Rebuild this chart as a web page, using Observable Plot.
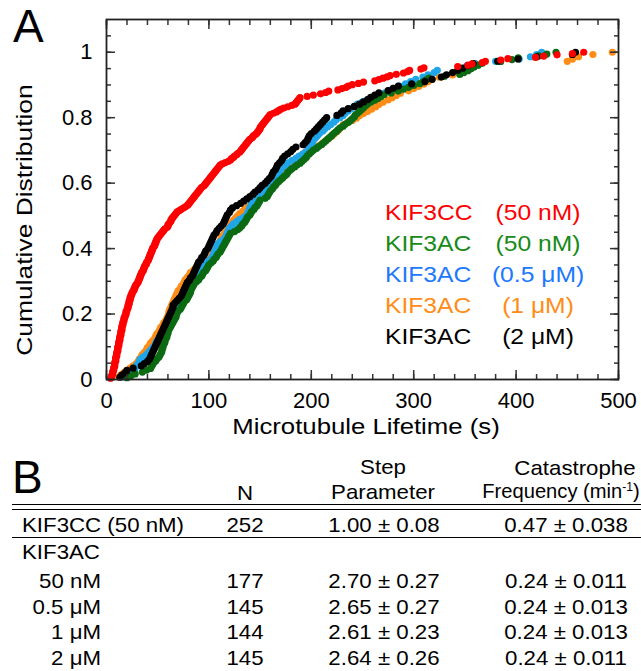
<!DOCTYPE html>
<html><head><meta charset="utf-8">
<script src="https://cdn.jsdelivr.net/npm/d3@7"></script>
<script src="https://cdn.jsdelivr.net/npm/@observablehq/plot@0.6"></script>
<style>
body{margin:0;background:#fff}
#wrap{position:relative;width:641px;height:671px;font-family:"Liberation Sans",Arial,Helvetica,sans-serif;color:#000;overflow:hidden;background:#fff}
#chart{position:absolute;left:0;top:0}
.t{position:absolute;white-space:nowrap;line-height:1}
.hl{position:absolute;height:0;border-top:1.5px solid #000}
</style></head><body><div id="wrap"><div id="chart"></div></div>
<script>
// ---------- data: panel A ----------
const seriesNames = ["KIF3CC", "KIF3AC", "KIF3AC", "KIF3AC", "KIF3AC"];
const seriesConc = ["(50 nM)", "(50 nM)", "(0.5 μM)", "(1 μM)", "(2 μM)"];
const dotColors = ["#ff0000", "#0b6a12", "#1fa5e8", "#ff8c16", "#000000"];
const textColors = ["#ff0000", "#178a17", "#1c78ff", "#ff8c16", "#000000"];

// microtubule lifetimes (s), sorted
const lifeKIF3CC_50nM = [4,5,5,6,6,6,7,7,7,8,8,8,8,9,9,
9,9,10,10,10,10,11,11,11,11,12,12,12,12,13,13,13,13,14,14,
14,14,15,15,15,15,16,16,16,17,
17,17,18,18,19,19,19,20,20,21,21,21,22,22,22,23,23,23,
24,24,25,25,26,27,27,28,28,29,30,
31,31,32,32,33,33,34,34,35,36,
36,37,37,38,39,39,40,
41,41,42,42,43,43,44,44,45,45,46,
47,47,48,48,49,49,50,51,
52,53,54,55,56,57,59,
60,60,61,62,63,63,64,
65,66,67,68,69,
71,73,75,77,79,
80,81,82,83,84,85,86,87,88,89,
90,91,92,93,95,96,97,98,
99,100,101,102,103,104,105,106,107,108,109,110,111,
113,116,119,121,
122,124,125,127,128,130,131,
132,133,134,135,136,137,138,139,
140,142,143,144,146,147,
148,149,150,150,151,152,153,
154,155,156,157,158,159,160,
163,166,168,170,
173,177,181,
184,185,186,187,188,189,
196,202,209,214,217,226,230,234,236,240,246,251,
262,266,270,274,277,283,290,294,296,307,310,
343,353,357,367,370,385,392,419,427,440,455,466];

const lifeKIF3AC_50nM = [20,24,28,35,39,43,44,45,46,48,
49,51,52,53,54,54,55,55,56,57,
57,58,59,59,60,60,61,62,63,64,
65,66,67,68,68,69,70,72,73,74,
75,76,78,79,80,81,82,82,83,84,
85,86,88,90,91,93,94,95,97,98,
99,100,102,104,105,107,108,109,111,112,
113,114,115,116,117,118,119,120,121,125,
128,130,132,133,135,136,137,138,140,141,
142,144,145,147,148,149,150,155,157,158,
159,160,162,163,165,166,168,170,172,174,
176,177,179,181,184,186,189,191,193,195,
196,198,200,202,205,207,210,212,214,216,
218,220,222,224,226,228,231,233,236,238,
240,242,243,245,247,249,251,253,255,258,
262,265,268,271,278,285,290,295,300,306,
309,312,315,330,345,349,353,356,359,363,
367,385,396,402,422,430,439];

const lifeKIF3AC_05uM = [15,17,22,26,28,29,31,32,33,36,
39,41,43,45,47,48,49,51,52,54,
55,56,58,59,61,62,63,65,66,68,
69,70,71,72,73,74,75,76,77,79,
80,81,83,88,90,91,92,93,93,94,
95,97,101,103,104,105,106,107,107,108,
111,114,116,117,118,119,120,122,124,127,
130,134,137,138,139,140,141,142,143,146,
150,152,154,156,158,159,160,162,164,165,
167,169,170,172,175,177,181,185,188,192,
195,197,198,200,201,202,204,206,208,211,
213,216,219,222,224,228,231,233,236,239,
242,245,250,255,262,268,272,276,280,286,
292,297,302,309,314,320,323,345,352,360,
380,403,414,420,425];

const lifeKIF3AC_1uM = [12,14,17,20,23,26,29,31,32,34,
35,37,39,40,42,43,45,47,48,49,
51,52,53,55,56,58,59,60,61,61,
62,63,64,65,66,67,68,69,70,72,
73,75,76,77,79,81,82,85,87,89,
92,95,99,102,103,104,106,107,108,110,
111,112,113,115,116,118,119,121,122,124,
126,128,130,133,135,138,141,144,147,149,
151,152,154,156,157,159,161,163,164,166,
167,170,174,177,180,183,186,188,191,194,
197,204,208,211,214,217,220,222,225,227,
229,231,235,240,244,247,251,255,259,263,
266,270,275,279,283,287,295,300,305,310,
314,318,325,338,344,349,353,357,360,450,
455,461,475,494];

const lifeKIF3AC_2uM = [13,15,18,20,26,34,37,40,42,43,
44,45,46,47,48,49,50,51,52,53,
54,55,56,57,58,59,60,61,62,63,
64,65,65,67,69,71,73,74,75,76,
77,78,79,81,82,84,85,86,87,88,
89,90,92,93,95,96,97,99,100,101,
102,103,104,105,107,108,110,112,114,115,
116,117,118,120,121,123,127,131,134,137,
140,143,145,148,150,152,155,157,159,161,
162,163,165,166,167,169,171,172,174,177,
180,182,185,192,194,196,197,198,200,203,
205,207,209,211,213,215,225,229,231,236,
242,247,251,255,258,262,266,275,280,285,
298,311,318,327,332,338,343,348,353,358,
382,402,420,455,458];

const lifetimes = [lifeKIF3CC_50nM, lifeKIF3AC_50nM, lifeKIF3AC_05uM, lifeKIF3AC_1uM, lifeKIF3AC_2uM];
const drawOrder = [3, 2, 1, 4, 0];

// axis ticks
const xMajorTicks = [0, 100, 200, 300, 400, 500];
const yMajorTicks = [0, 0.2, 0.4, 0.6, 0.8, 1];
const yTickLabels = ["0", "0.2", "0.4", "0.6", "0.8", "1"];
const xLabel = "Microtubule Lifetime (s)";
const yLabel = "Cumulative Distribution";

// ---------- data: panel B ----------
const tableHeadN = "N";
const tableHeadStep = ["Step", "Parameter"];
const tableHeadCat = ["Catastrophe", "Frequency (min<sup style=\"font-size:0.6em;vertical-align:0.55em;line-height:0\">-1</sup>)"];
const tableGroup = "KIF3AC";
const tableRowLabels = ["KIF3CC (50 nM)", "50 nM", "0.5 μM", "1 μM", "2 μM"];
const tableN = [252, 177, 145, 144, 145];
const tableStep = ["1.00 ± 0.08", "2.70 ± 0.27", "2.65 ± 0.27", "2.61 ± 0.23", "2.64 ± 0.26"];
const tableCat = ["0.47 ± 0.038", "0.24 ± 0.011", "0.24 ± 0.013", "0.24 ± 0.013", "0.24 ± 0.011"];

// ---------- chart ----------
function cdf(arr) { const n = arr.length; return arr.map((t, i) => ({t, F: (i + 1) / n})); }
const xMinor = d3.range(0, 501, 20);
const yMinor = d3.range(0, 22).map(k => k * 0.05);
const tickStyle = {stroke: "#333", strokeWidth: 1.5, label: null, tickFormat: () => ""};

const plot = Plot.plot({
  width: 641, height: 445,
  marginLeft: 106, marginRight: 23, marginTop: 19, marginBottom: 66,
  x: {domain: [0, 500]},
  y: {domain: [0, 1.1]},
  style: {fontFamily: '"Liberation Sans", Arial, sans-serif', fontSize: "22px", color: "#000", background: "#fff"},
  marks: [
    ...drawOrder.map(s => Plot.dot(cdf(lifetimes[s]), {x: "t", y: "F", r: 3.6, fill: dotColors[s], stroke: "none"})),
    Plot.axisX(xMinor, {anchor: "bottom", tickSize: -5, ...tickStyle}),
    Plot.axisX(xMinor, {anchor: "top", tickSize: -5, ...tickStyle}),
    Plot.axisX(xMajorTicks, {anchor: "bottom", tickSize: -9, ...tickStyle}),
    Plot.axisX(xMajorTicks, {anchor: "top", tickSize: -9, ...tickStyle}),
    Plot.axisY(yMinor, {anchor: "left", tickSize: -5, ...tickStyle}),
    Plot.axisY(yMinor, {anchor: "right", tickSize: -5, ...tickStyle}),
    Plot.axisY(yMajorTicks, {anchor: "left", tickSize: -9, ...tickStyle}),
    Plot.axisY(yMajorTicks, {anchor: "right", tickSize: -9, ...tickStyle}),
    Plot.axisX(xMajorTicks, {anchor: "bottom", tickSize: 0, tickPadding: 13, tickFormat: d => String(d), label: null}),
    Plot.axisY(yMajorTicks, {anchor: "left", tickSize: 0, tickPadding: 14, tickFormat: (d, i) => yTickLabels[i], label: null}),
    Plot.frame({stroke: "#222", strokeWidth: 1.8})
  ]
});
document.getElementById("chart").appendChild(plot);

// ---------- text helpers ----------
const wrap = document.getElementById("wrap");
function put(html, x, baseline, size, align, color, sx) {
  const d = document.createElement("div");
  d.className = "t";
  d.innerHTML = html;
  d.style.fontSize = size + "px";
  d.style.left = x + "px";
  d.style.top = (baseline - 0.8465 * size) + "px";
  d.style.color = color || "#000";
  const s = sx || 1;
  if (align === "center") { d.style.transformOrigin = "center"; d.style.transform = `translateX(-50%) scaleX(${s})`; }
  else if (align === "right") { d.style.transformOrigin = "right center"; d.style.transform = `translateX(-100%) scaleX(${s})`; }
  else { d.style.transformOrigin = "left center"; d.style.transform = `scaleX(${s})`; }
  wrap.appendChild(d);
  return d;
}
function putRotated(text, cx, cy, size, sx) {
  const d = document.createElement("div");
  d.className = "t";
  d.textContent = text;
  d.style.fontSize = size + "px";
  d.style.left = cx + "px";
  d.style.top = cy + "px";
  d.style.transformOrigin = "center";
  d.style.transform = `translate(-50%, -50%) rotate(-90deg) scaleX(${sx})`;
  wrap.appendChild(d);
}
function hline(x1, x2, y) {
  const d = document.createElement("div");
  d.className = "hl";
  d.style.left = x1 + "px"; d.style.width = (x2 - x1) + "px"; d.style.top = y + "px";
  wrap.appendChild(d);
}

// axis titles
put(xLabel, 366, 435, 22, "center", "#000", 1.17);
putRotated(yLabel, 25, 220, 22, 1.2);

// panel letters
put("A", 13, 42, 46, "left");
put("B", 12, 493, 46, "left");

// legend inside plot
const legendBase = [221, 252, 283, 314, 345];
seriesNames.forEach((n, i) => {
  put(n, 385, legendBase[i], 22, "left", textColors[i], 1.12);
  put(seriesConc[i], 538, legendBase[i], 22, "center", textColors[i], 1.12);
});

// table
const TS = 21, TX = 1.06;
put(tableHeadN, 245, 500, TS, "center", "#000", TX);
put(tableHeadStep[0], 383, 474, TS, "center", "#000", TX);
put(tableHeadStep[1], 383, 499, TS, "center", "#000", TX);
put(tableHeadCat[0], 575, 475, TS, "center", "#000", TX);
put(tableHeadCat[1], 561, 497.5, TS, "center", "#000", 0.96);
hline(12, 641, 504);
hline(12, 641, 508.5);
const rowBase = [532, 588, 614, 639, 665];
put(tableRowLabels[0], 22, rowBase[0], TS, "left", "#000", TX);
hline(12, 641, 537);
put(tableGroup, 22, 559, TS, "left", "#000", TX);
tableRowLabels.forEach((lab, i) => {
  if (i > 0) put(lab, 101, rowBase[i], TS, "right", "#000", TX);
  put(String(tableN[i]), 245, rowBase[i], TS, "center", "#000", TX);
  put(tableStep[i], 384, rowBase[i], TS, "center", "#000", TX);
  put(tableCat[i], 566, rowBase[i], TS, "center", "#000", TX);
});
</script></body></html>
